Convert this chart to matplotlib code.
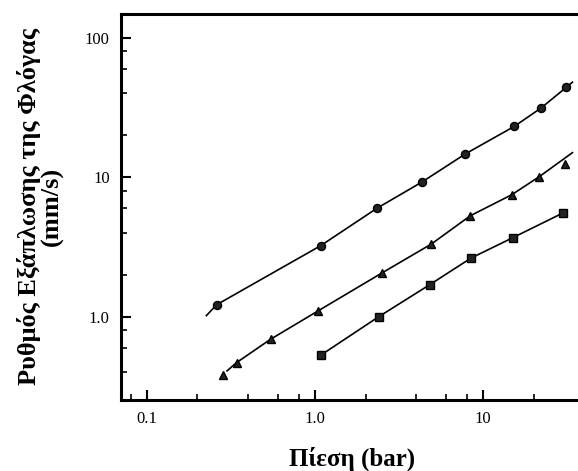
import matplotlib
matplotlib.use("Agg")
import matplotlib.pyplot as plt
from matplotlib.ticker import LogLocator, FixedLocator, FixedFormatter, NullFormatter

# data (pressure in bar, speed in mm/s)
p_circle = [0.26, 1.08, 2.34, 4.33, 7.85, 15.3, 22.1, 31.2]
v_circle = [1.22, 3.23, 6.0, 9.24, 14.7, 23.1, 31.3, 44.0]
line_circle_x = [0.226, 0.26, 1.08, 2.34, 4.33, 7.85, 15.3, 22.1, 31.2, 34.0]
line_circle_y = [1.02, 1.22, 3.23, 6.0, 9.24, 14.7, 23.1, 31.3, 44.0, 48.0]

p_tri = [0.282, 0.342, 0.544, 1.04, 2.5, 4.92, 8.4, 14.8, 21.6, 30.8]
v_tri = [0.38, 0.47, 0.69, 1.10, 2.06, 3.32, 5.3, 7.49, 10.1, 12.5]
line_tri_x = [0.30, 0.342, 0.544, 1.04, 2.5, 4.92, 8.4, 14.8, 21.6, 34.0]
line_tri_y = [0.41, 0.47, 0.69, 1.10, 2.06, 3.32, 5.3, 7.49, 10.1, 15.0]

p_sq = [1.08, 2.39, 4.82, 8.5, 15.1, 29.8]
v_sq = [0.53, 1.0, 1.70, 2.64, 3.70, 5.54]

xticks = [0.1, 1.0, 10]
xlabels = ["0.1", "1.0", "10"]
yticks = [1.0, 10, 100]
ylabels = ["1.0", "10", "100"]

serif = ["Liberation Serif", "DejaVu Serif"]

fig = plt.figure(figsize=(5.78, 4.71), dpi=100)
ax = fig.add_axes([0.209, 0.151, 0.800, 0.820])

ax.plot(line_circle_x, line_circle_y, color="black", lw=1.2)
ax.plot(p_circle, v_circle, "o", color="black", ms=5.8, mfc="#222222")
ax.plot(line_tri_x, line_tri_y, color="black", lw=1.2)
ax.plot(p_tri, v_tri, "^", color="black", ms=5.5, mfc="#222222")
ax.plot(p_sq, v_sq, color="black", lw=1.2)
ax.plot(p_sq, v_sq, "s", color="black", ms=6, mfc="#222222")

ax.set_xscale("log")
ax.set_yscale("log")
ax.set_xlim(0.07, 39.4)
ax.set_ylim(0.254, 148.6)

ax.xaxis.set_major_locator(FixedLocator(xticks))
ax.xaxis.set_major_formatter(FixedFormatter(xlabels))
ax.yaxis.set_major_locator(FixedLocator(yticks))
ax.yaxis.set_major_formatter(FixedFormatter(ylabels))
ax.xaxis.set_minor_locator(LogLocator(base=10, subs=[2, 4, 6, 8]))
ax.yaxis.set_minor_locator(LogLocator(base=10, subs=[2, 4, 6, 8]))
ax.xaxis.set_minor_formatter(NullFormatter())
ax.yaxis.set_minor_formatter(NullFormatter())

ax.tick_params(which="major", direction="in", length=7, width=1.5, labelsize=12, pad=8)
ax.tick_params(which="minor", direction="in", length=4, width=1.2)
ax.tick_params(top=False, right=False)
for lab in ax.get_xticklabels() + ax.get_yticklabels():
    lab.set_family(serif)

for s in ["left", "bottom", "top"]:
    ax.spines[s].set_linewidth(2.2)
ax.spines["right"].set_visible(False)

ax.set_xlabel("Πίεση (bar)", family=serif, fontsize=18, fontweight="bold", labelpad=14)
ax.set_ylabel("Ρυθμός Εξάπλωσης της Φλόγας\n(mm/s)", family=serif, fontsize=19,
              fontweight="bold", labelpad=15, linespacing=1.0)

fig.savefig("out.png", dpi=100)
